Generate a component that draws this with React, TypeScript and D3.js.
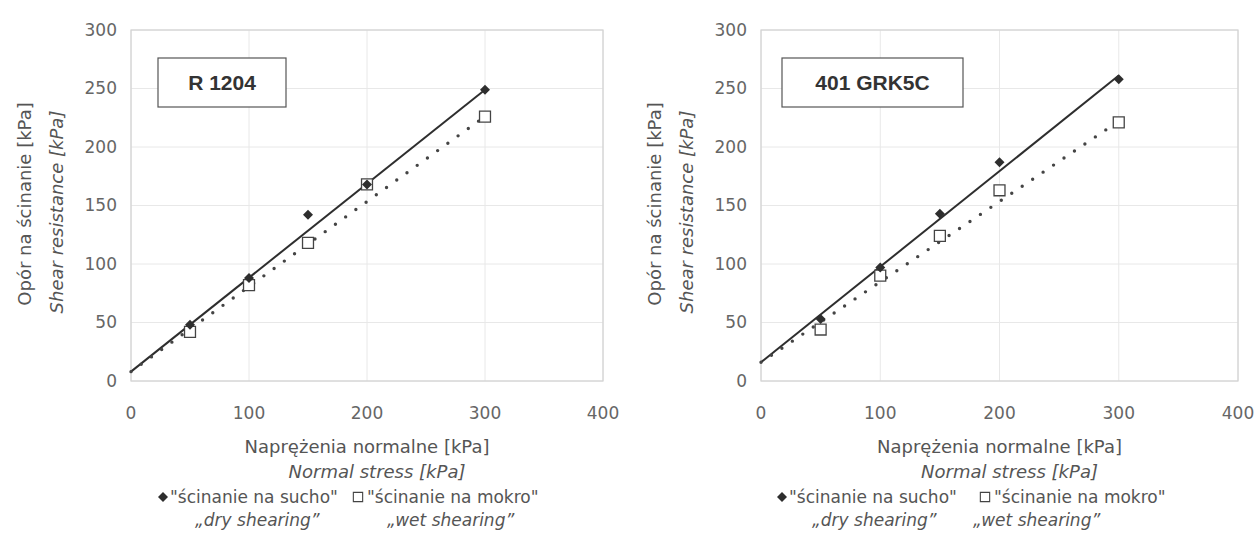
import React from 'react';
import * as d3 from 'd3';

// normal stress levels of the shear tests [kPa]
const stress = [50, 100, 150, 200, 300];

// R 1204
const r1204Dry = [48, 88, 142, 168, 249];
const r1204Wet = [42, 82, 118, 168, 226];
// trend lines: [intercept, slope]
const r1204DryFit = [8, 0.803];
const r1204WetFit = [8, 0.727];

// 401 GRK5C
const grkDry = [53, 97, 143, 187, 258];
const grkWet = [44, 90, 124, 163, 221];
const grkDryFit = [16, 0.817];
const grkWetFit = [16, 0.687];

const xTicks = [0, 100, 200, 300, 400];
const yTicks = [0, 50, 100, 150, 200, 250, 300];

const panels = [
    { name: 'R 1204', dry: r1204Dry, wet: r1204Wet, dryFit: r1204DryFit, wetFit: r1204WetFit,
      left: 131, right: 603, box: [158, 286], legendX: 163, squareX: 358, row2: [195, 387] },
    { name: '401 GRK5C', dry: grkDry, wet: grkWet, dryFit: grkDryFit, wetFit: grkWetFit,
      left: 761, right: 1238, box: [782, 963], legendX: 782, squareX: 985, row2: [812, 973] },
];

const font = '"DejaVu Sans", sans-serif';
const textCol = '#555';

function Panel({ p }: { p: any }) {
    const x = d3.scaleLinear().domain([0, 400]).range([p.left, p.right]);
    const y = d3.scaleLinear().domain([0, 300]).range([381, 30]);

    const fitLine = (fit: number[]) =>
        d3.line<number>().x(d => x(d)).y(d => y(fit[0] + fit[1] * d))([0, 300]) || '';

    const diamond = d3.symbol(d3.symbolSquare, 50)() || '';
    const square = d3.symbol(d3.symbolSquare, 120)() || '';
    const midX = (p.left + p.right) / 2;

    return (
        <g>
            {/* grid */}
            {yTicks.map(t => (
                <line key={'gy' + t} x1={p.left} x2={p.right} y1={y(t)} y2={y(t)} stroke="#e8e8e8" />
            ))}
            {xTicks.map(t => (
                <line key={'gx' + t} x1={x(t)} x2={x(t)} y1={y(0)} y2={y(300)} stroke="#e8e8e8" />
            ))}
            <rect x={p.left} y={y(300)} width={p.right - p.left} height={y(0) - y(300)}
                fill="none" stroke="#d2d2d2" strokeWidth={1.2} />

            {/* tick labels */}
            {yTicks.map(t => (
                <text key={'ly' + t} x={p.left - 14} y={y(t)} dy="0.35em" textAnchor="end"
                    fontFamily={font} fontSize={17} fill="#666">{t}</text>
            ))}
            {xTicks.map(t => (
                <text key={'lx' + t} x={x(t)} y={419} textAnchor="middle"
                    fontFamily={font} fontSize={17} fill="#666">{t}</text>
            ))}

            {/* trend lines */}
            <path d={fitLine(p.dryFit)} stroke="#2e2e2e" strokeWidth={2} fill="none" />
            <path d={fitLine(p.wetFit)} stroke="#444" strokeWidth={3.4} fill="none"
                strokeDasharray="0 12.6" strokeLinecap="round" />

            {/* points */}
            {stress.map((s, i) => (
                <path key={'w' + s} d={square} transform={`translate(${x(s)},${y(p.wet[i])})`}
                    fill="#fff" stroke="#444" strokeWidth={1.3} />
            ))}
            {stress.map((s, i) => (
                <path key={'d' + s} d={diamond} transform={`translate(${x(s)},${y(p.dry[i])}) rotate(45)`}
                    fill="#2e2e2e" />
            ))}

            {/* name box */}
            <rect x={p.box[0]} y={58} width={p.box[1] - p.box[0]} height={49}
                fill="#fff" stroke="#555" strokeWidth={1.2} />
            <text x={(p.box[0] + p.box[1]) / 2} y={90} textAnchor="middle"
                fontFamily='"Liberation Sans", Arial, sans-serif' fontWeight="bold"
                fontSize={21} fill="#333">{p.name}</text>

            {/* y title */}
            <text transform={`translate(${p.left - 100},204) rotate(-90)`} textAnchor="middle"
                fontFamily={font} fontSize={18} fill={textCol}>Opór na ścinanie [kPa]</text>
            <text transform={`translate(${p.left - 68},212) rotate(-90)`} textAnchor="middle"
                fontFamily={font} fontSize={18} fontStyle="italic" fill={textCol}>Shear resistance [kPa]</text>

            {/* x title */}
            <text x={midX} y={453} textAnchor="middle" fontFamily={font} fontSize={18}
                fill={textCol}>Naprężenia normalne [kPa]</text>
            <text x={midX + 10} y={478} textAnchor="middle" fontFamily={font} fontSize={18}
                fontStyle="italic" fill={textCol}>Normal stress [kPa]</text>

            {/* legend */}
            <path d={diamond} transform={`translate(${p.legendX},${497}) rotate(45)`} fill="#2e2e2e" />
            <text x={p.legendX + 7} y={503} fontFamily={font} fontSize={17} fill={textCol}>"ścinanie na sucho"</text>
            <path d={square} transform={`translate(${p.squareX},${497}) scale(0.85)`}
                fill="#fff" stroke="#444" strokeWidth={1.3} />
            <text x={p.squareX + 9} y={503} fontFamily={font} fontSize={17} fill={textCol}>"ścinanie na mokro"</text>
            <text x={p.row2[0]} y={526} fontFamily={font} fontSize={17} fontStyle="italic"
                fill={textCol}>„dry shearing”</text>
            <text x={p.row2[1]} y={526} fontFamily={font} fontSize={17} fontStyle="italic"
                fill={textCol}>„wet shearing”</text>
        </g>
    );
}

export default function App() {
    return (
        <div style={{ position: 'absolute', left: 0, top: 0 }}>
            <svg width={1255} height={543} style={{ display: 'block', background: '#fff' }}>
                {panels.map(p => <Panel key={p.name} p={p} />)}
            </svg>
        </div>
    );
}
